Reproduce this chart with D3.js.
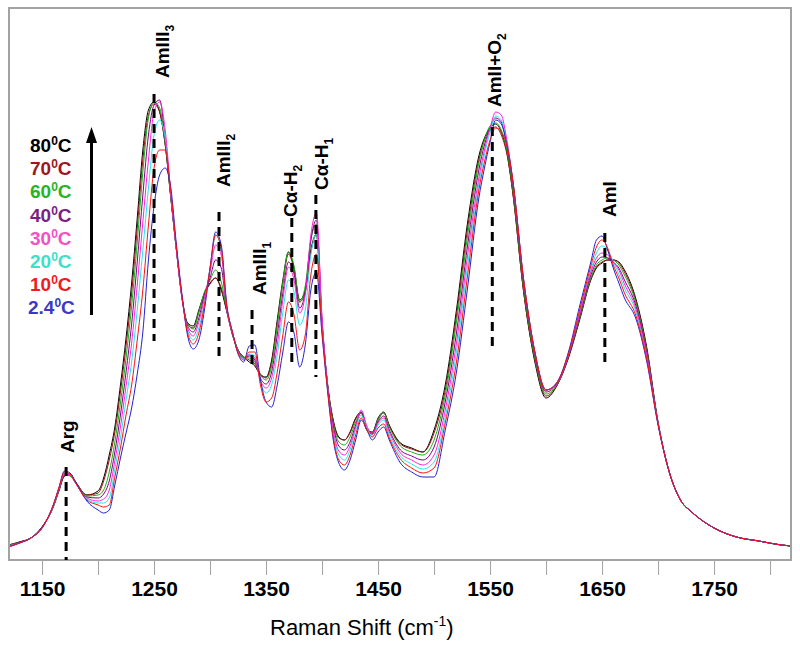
<!DOCTYPE html>
<html><head><meta charset="utf-8">
<script src="https://cdn.jsdelivr.net/npm/d3@7"></script>
<style>body{margin:0;background:#fff} svg{display:block}</style>
</head><body>
<svg id="chart" width="800" height="648"></svg>
<script>
// ---------- DATA ----------
const wavenumbers = [1120,1130,1140,1150,1160,1165,1170,1175,1180,1190,
1200,1205,1210,1215,1220,1225,1230,1235,1240,1245,
1250,1255,1260,1265,1270,1275,1280,1285,1290,1295,
1300,1305,1310,1315,1320,1325,1330,1335,1340,1345,
1350,1355,1360,1365,1370,1375,1380,1385,1390,1395,
1400,1405,1410,1415,1420,1425,1430,1435,1440,1445,
1450,1455,1460,1470,1480,1490,1500,1510,1520,1530,
1540,1545,1550,1555,1560,1565,1570,1580,1590,1600,
1610,1620,1630,1640,1645,1650,1655,1660,1665,1670,
1680,1690,1700,1710,1720,1730,1740,1750,1770,1790,
1810,1819];

const int80 = [15,18,22,33,53,69,84,86,78,65,
69,82,105,133,175,222,277,342,410,450,
458,448,415,362,310,262,237,234,250,267,
277,282,270,248,225,210,203,198,194,185,
183,200,240,280,308,292,260,270,310,326,
235,175,140,123,120,128,142,148,130,128,
142,148,135,117,112,108,130,175,250,338,
404,422,432,436,428,408,370,268,198,162,
175,202,240,280,292,297,300,300,298,290,
262,212,138,88,60,48,39,32,23,19,
15,14];
const int70 = [15,18,22,33,53,69,84,85,78,65,
67,79,100,128,168,214,267,332,400,445,
456,448,415,362,310,262,236,232,248,266,
276,282,272,249,226,210,203,200,196,186,
182,198,237,277,306,290,258,268,308,325,
235,175,139,122,120,127,141,147,130,127,
140,147,134,116,111,108,127,170,244,332,
400,420,430,433,425,406,370,268,200,164,
175,203,242,281,293,298,300,300,297,288,
260,210,137,88,60,48,39,32,23,19,
15,14];
const int60 = [15,18,22,33,53,70,85,84,77,64,
65,70,88,118,157,202,254,318,388,442,
458,452,417,363,310,262,236,231,248,268,
280,290,278,250,227,210,203,202,198,185,
180,194,234,277,308,294,258,274,320,336,
238,175,137,118,115,123,138,147,130,126,
140,147,133,114,108,105,120,165,238,325,
397,420,434,437,430,410,374,272,202,166,
176,204,242,282,295,300,302,300,295,285,
258,208,137,88,60,48,39,32,23,19,
15,14];
const int40 = [14,18,22,33,54,70,86,86,77,63,
62,66,79,108,145,188,236,298,365,425,
455,460,420,364,310,262,234,228,242,265,
282,300,292,250,227,209,202,204,200,182,
176,188,225,267,298,286,252,268,320,340,
240,174,134,114,110,118,135,148,132,126,
138,144,130,110,104,100,113,158,227,315,
390,415,432,442,438,415,378,276,205,168,
177,204,244,285,298,303,302,298,292,280,
255,206,137,88,60,48,39,32,23,19,
15,14];
const int30 = [14,17,22,32,54,71,86,85,77,62,
59,61,70,99,133,174,217,275,338,400,
448,458,430,366,310,261,232,224,238,262,
288,315,305,251,227,208,202,205,202,180,
172,182,215,260,293,280,247,265,325,347,
242,173,130,109,105,114,133,150,134,126,
137,142,128,107,100,95,105,150,217,305,
382,410,432,448,445,420,382,280,208,170,
177,205,246,288,302,307,305,298,290,276,
252,204,136,88,60,48,39,32,23,19,
15,14];
const int20 = [14,17,22,32,54,71,87,86,77,61,
57,57,62,91,122,160,198,250,310,372,
425,440,422,366,311,262,230,220,232,258,
292,325,310,252,227,208,201,206,204,178,
167,175,205,248,280,268,235,250,305,326,
235,172,127,105,100,110,130,145,132,124,
135,140,125,104,96,91,98,143,208,295,
376,405,428,444,440,418,382,280,208,170,
178,206,248,290,307,314,310,298,286,272,
249,202,136,88,60,48,39,32,23,19,
15,14];
const int10 = [13,17,22,32,55,72,88,86,77,60,
55,53,55,83,112,145,175,220,270,335,
392,410,410,368,312,263,227,216,227,255,
292,325,312,253,228,207,200,208,208,175,
158,162,188,225,258,245,210,225,285,306,
230,170,123,100,95,105,125,142,130,123,
132,136,122,101,92,87,92,137,198,285,
370,398,420,432,428,415,382,280,208,170,
178,206,250,294,313,320,312,295,282,267,
245,200,136,88,60,48,39,32,23,19,
15,14];
const int2_4 = [13,17,22,32,55,72,89,87,78,59,
50,47,50,75,102,127,152,186,228,300,
354,385,392,372,315,265,224,211,220,250,
292,328,315,255,228,206,198,214,215,180,
158,153,175,208,238,227,193,215,270,288,
225,168,120,97,90,100,120,140,130,120,
128,133,120,97,88,83,83,130,188,273,
362,392,418,440,436,415,382,280,208,170,
178,208,254,298,320,324,310,292,277,262,
242,198,135,88,60,48,39,32,23,19,
15,14];

const temperatures = ["80","70","60","40","30","20","10","2.4"];
const seriesValues = [int80,int70,int60,int40,int30,int20,int10,int2_4];

const tickValues = [1150,1200,1250,1300,1350,1400,1450,1500,1550,1600,1650,1700,1750,1800];
const tickLabels = [1150,1250,1350,1450,1550,1650,1750];

// peak assignments: name, subscript, wavenumber, dashed-line intensity range
const peakNames = ["Arg","AmIII","AmIII","AmIII","C\u03b1-H","C\u03b1-H","AmII+O","AmI"];
const peakSubs  = ["","3","2","1","2","1","2",""];
const peakWn    = [1171.5,1250,1308,1337.5,1373,1394.5,1552,1652.5];
const peakTop   = [93,466,348,250,342,365,433,327];
const peakBot   = [0,219,201,192,195,183,210,197];

// ---------- STYLE / LAYOUT ----------
const lineColors   = ["#000000","#9b1010","#12b012","#800080","#ff22dd","#22e8e8","#ff1010","#2020d8"];
const legendColors = ["#000000","#a0161b","#26b526","#7b1f84","#f54fc4","#3de0c8","#f01c1c","#3a3ac4"];
const drawOrder = [0,1,2,3,5,4,7,6];
const labelDx  = [8,15,11,14,5,12,9,11];
const labelY   = [453,78,187,295,217,190,107,217];

const svg = d3.select("#chart");
const L = 9, R = 791, T = 8, B = 560;
const x = d3.scaleLinear().domain([1120.5, 1818.7]).range([L, R]);
const y = d3.scaleLinear().domain([0, 552]).range([B, T]);

svg.append("defs").append("clipPath").attr("id","clip")
  .append("rect").attr("x",L).attr("y",T).attr("width",R-L).attr("height",B-T);

const line = d3.line().x(d => x(d[0])).y(d => y(d[1])).curve(d3.curveMonotoneX);
const g = svg.append("g").attr("clip-path","url(#clip)");
drawOrder.forEach(i => {
  const pts = wavenumbers.map((w, j) => [w, seriesValues[i][j]]);
  g.append("path").datum(pts).attr("d", line)
    .attr("fill","none").attr("stroke", lineColors[i]).attr("stroke-width",1);
});

// frame
svg.append("rect").attr("x",L).attr("y",T).attr("width",R-L).attr("height",B-T)
  .attr("fill","none").attr("stroke","#a3a3a3").attr("stroke-width",2);

// x axis
const labelSet = new Set(tickLabels);
const ax = svg.append("g").attr("transform",`translate(0,${B})`)
  .call(d3.axisBottom(x).tickValues(tickValues).tickSize(15).tickFormat(d => labelSet.has(d) ? d : ""));
ax.select(".domain").remove();
ax.selectAll(".tick line").attr("stroke","#a3a3a3").attr("stroke-width",1);
ax.selectAll(".tick text").attr("y",36).attr("dy",0)
  .attr("font-family","Liberation Sans, Arial, sans-serif").attr("font-weight","bold")
  .attr("font-size",21).attr("fill","#000");

// axis title
const title = svg.append("text").attr("x",270).attr("y",635)
  .attr("font-family","Liberation Sans, Arial, sans-serif").attr("font-size",22).attr("fill","#000");
title.append("tspan").text("Raman Shift (cm");
title.append("tspan").attr("font-size",14).attr("dy",-9).text("-1");
title.append("tspan").attr("dy",9).text(")");

// dashed peak lines + labels
peakWn.forEach((w, i) => {
  svg.append("line").attr("x1",x(w)).attr("x2",x(w))
    .attr("y1",y(peakTop[i])).attr("y2",y(peakBot[i]))
    .attr("stroke","#000").attr("stroke-width",3).attr("stroke-dasharray","9,6");
  const t = svg.append("text")
    .attr("transform",`translate(${x(w)+labelDx[i]},${labelY[i]}) rotate(-90)`)
    .attr("font-family","Liberation Sans, Arial, sans-serif").attr("font-weight","bold")
    .attr("font-size",19).attr("fill","#000");
  t.append("tspan").text(peakNames[i]);
  if (peakSubs[i]) t.append("tspan").attr("font-size",12).attr("dy",5).text(peakSubs[i]);
});

// legend
temperatures.forEach((tp, i) => {
  const t = svg.append("text").attr("x", tp === "2.4" ? 28 : 30).attr("y",152 + i*23.2)
    .attr("font-family","Liberation Sans, Arial, sans-serif").attr("font-weight","bold")
    .attr("font-size",19).attr("fill",legendColors[i]);
  t.append("tspan").text(tp);
  t.append("tspan").attr("font-size",12).attr("dy",-7).text("0");
  t.append("tspan").attr("dy",7).text("C");
});

// arrow
svg.append("line").attr("x1",91.5).attr("x2",91.5).attr("y1",315).attr("y2",140)
  .attr("stroke","#000").attr("stroke-width",3);
svg.append("path").attr("d","M91.5,127 L86,143 L97,143 Z").attr("fill","#000");
</script>
</body></html>
